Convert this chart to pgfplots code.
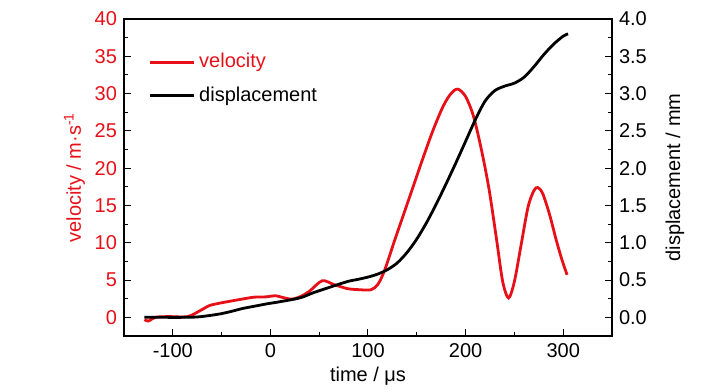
\documentclass[border=0pt]{standalone}
\usepackage{pgfplots}
\pgfplotsset{compat=1.18}
\usepackage{fontspec}
\setmainfont{Liberation Sans}
\definecolor{vred}{RGB}{232,16,24}
\begin{document}
\begin{tikzpicture}
\pgfplotsset{
  every axis/.append style={
    scale only axis, width=244pt, height=158.5pt,
    xmin=-150, xmax=350,
    tick align=inside,
    major tick length=3.5pt, minor tick length=1.8pt,
    axis line style={line width=0.6pt},
    every tick/.style={black, line width=0.5pt},
    tick label style={font=\fontsize{10}{12}\selectfont},
    label style={font=\fontsize{10}{12}\selectfont},
    /pgf/number format/assume math mode=true,
  }
}
\begin{axis}[name=main,
  ymin=-2.5, ymax=40,
  xtick={-100,0,100,200,300}, minor x tick num=1,
  ytick={0,5,...,40}, minor y tick num=1,
  xtick pos=bottom, ytick pos=left,
  y tick label style={text=vred},
  xlabel={time / μs},
  xlabel style={yshift=2pt},
  ylabel={velocity / m·s\textsuperscript{-1}},
  ylabel style={text=vred, yshift=-2pt},
]
\addplot[vred, line width=1.4pt, smooth] coordinates {
(-129,-0.3) (-125,-0.5) (-118,0) (-105,0.1) (-85,0.1) (-72,0.9) (-62,1.6)
(-48,2.0) (-31,2.4) (-17,2.7) (-4,2.75) (5,2.9) (13,2.65) (22,2.45) (31,2.8)
(40,3.5) (53,4.9) (65,4.4) (79,3.85) (92,3.7) (103,3.7) (110,4.4) (117,6.3)
(127,10.2) (137,14.0) (147,17.8) (157,21.6) (167,25.2) (177,28.3) (185,30.0)
(192,30.6) (200,29.6) (208,27.0) (216,22.6) (224,17.2) (232,10.2) (238,4.8)
(244,2.6) (250,4.8) (257,9.8) (264,14.8) (270,17.0) (274,17.4) (279,16.6)
(286,13.8) (293,10.3) (299,7.6) (304,5.7)
};
\end{axis}
\begin{axis}[
  ymin=-0.25, ymax=4,
  axis x line=none, axis y line*=right,
  ytick={0,0.5,...,4}, minor y tick num=1,
  yticklabel style={/pgf/number format/fixed, /pgf/number format/precision=1, /pgf/number format/fixed zerofill},
  ylabel={displacement / mm},
  ylabel style={yshift=-2.5pt},
  legend style={draw=none, fill=none, at={(rel axis cs:0,1)}, anchor=north west,
    xshift=9pt, yshift=-13pt, row sep=4pt,
    font=\fontsize{10}{12}\selectfont},
  legend cell align=left,
  legend image code/.code={\draw[#1] (0pt,0pt) -- (22pt,0pt);},
]
\addlegendimage{vred, line width=1.4pt}
\addlegendentry{\textcolor{vred}{velocity}}
\addplot[black, line width=1.4pt, smooth] coordinates {
(-129,0) (-110,0) (-90,0) (-75,0.005) (-62,0.025) (-50,0.05) (-40,0.08)
(-28,0.12) (-16,0.15) (-4,0.18) (10,0.21) (30,0.26) (44,0.33) (60,0.40)
(79,0.48) (90,0.51) (100,0.54) (110,0.58) (120,0.64) (130,0.73) (140,0.87)
(150,1.05) (160,1.27) (170,1.52) (180,1.79) (190,2.07) (200,2.36) (210,2.65)
(220,2.90) (230,3.04) (240,3.10) (250,3.14) (260,3.22) (270,3.36) (280,3.52)
(290,3.66) (300,3.77) (305,3.80)
};
\addlegendentry{displacement}
\end{axis}
\path (main.south west) ++(-62pt,-27pt) rectangle ++(364pt,195pt);
\end{tikzpicture}
\end{document}
